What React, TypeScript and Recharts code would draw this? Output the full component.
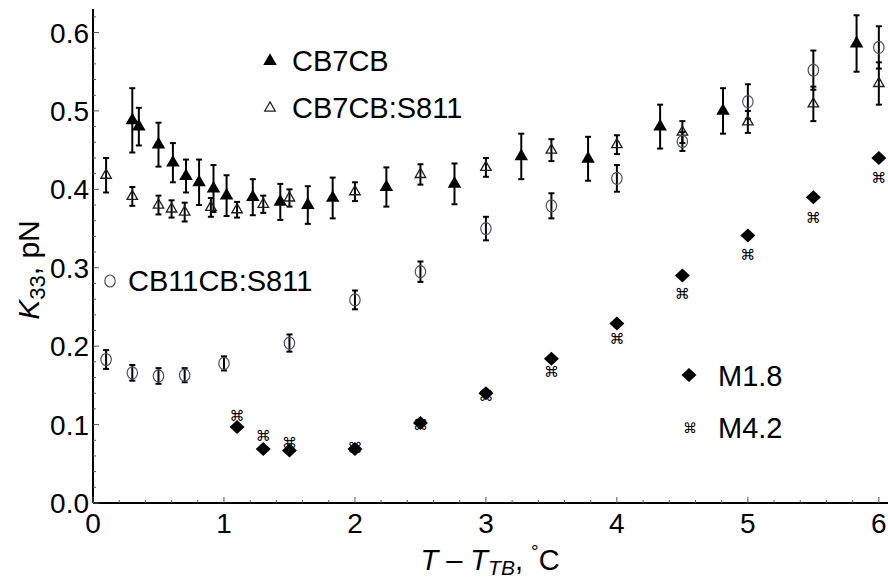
import React from 'react';
import { ScatterChart, Scatter, XAxis, YAxis, ErrorBar } from 'recharts';

// ---- data ----
const cb7cbX = [0.3, 0.35, 0.5, 0.61, 0.71, 0.81, 0.92, 1.02, 1.22, 1.43, 1.64, 1.83, 2.24, 2.76, 3.27, 3.78, 4.33, 4.81, 5.83];
const cb7cbY = [0.488, 0.48, 0.457, 0.434, 0.417, 0.409, 0.401, 0.392, 0.39, 0.384, 0.38, 0.389, 0.403, 0.407, 0.442, 0.439, 0.48, 0.5, 0.586];
const cb7cbErr = [0.041, 0.024, 0.028, 0.025, 0.021, 0.029, 0.03, 0.026, 0.023, 0.023, 0.024, 0.026, 0.025, 0.026, 0.029, 0.028, 0.028, 0.029, 0.036];

const cb7cbS811X = [0.1, 0.3, 0.5, 0.6, 0.7, 0.9, 1.1, 1.3, 1.5, 2.0, 2.5, 3.0, 3.5, 4.0, 4.5, 5.0, 5.5, 6.0];
const cb7cbS811Y = [0.418, 0.391, 0.38, 0.375, 0.371, 0.377, 0.374, 0.381, 0.389, 0.397, 0.419, 0.428, 0.45, 0.457, 0.473, 0.486, 0.509, 0.535];
const cb7cbS811Err = [0.022, 0.012, 0.012, 0.011, 0.012, 0.012, 0.01, 0.011, 0.011, 0.012, 0.013, 0.012, 0.014, 0.012, 0.014, 0.014, 0.022, 0.027];

const cb11cbX = [0.1, 0.3, 0.5, 0.7, 1.0, 1.5, 2.0, 2.5, 3.0, 3.5, 4.0, 4.5, 5.0, 5.5, 6.0];
const cb11cbY = [0.183, 0.166, 0.162, 0.163, 0.178, 0.204, 0.259, 0.295, 0.35, 0.379, 0.414, 0.461, 0.512, 0.552, 0.581];
const cb11cbErr = [0.012, 0.01, 0.01, 0.009, 0.009, 0.011, 0.012, 0.013, 0.015, 0.016, 0.017, 0.012, 0.022, 0.025, 0.027];

const m18X = [1.1, 1.3, 1.5, 2.0, 2.5, 3.0, 3.5, 4.0, 4.5, 5.0, 5.5, 6.0];
const m18Y = [0.097, 0.069, 0.067, 0.069, 0.102, 0.14, 0.184, 0.229, 0.29, 0.341, 0.39, 0.44];

const m42X = [1.1, 1.3, 1.5, 2.0, 2.5, 3.0, 3.5, 4.0, 4.5, 5.0, 5.5, 6.0];
const m42Y = [0.111, 0.086, 0.076, 0.07, 0.099, 0.137, 0.167, 0.209, 0.266, 0.316, 0.364, 0.414];

const xTicks = [0, 0.2, 0.4, 0.6, 0.8, 1, 1.2, 1.4, 1.6, 1.8, 2, 2.2, 2.4, 2.6, 2.8, 3, 3.2, 3.4, 3.6, 3.8, 4, 4.2, 4.4, 4.6, 4.8, 5, 5.2, 5.4, 5.6, 5.8, 6];
const yTicks = [0, 0.02, 0.04, 0.06, 0.08, 0.1, 0.12, 0.14, 0.16, 0.18, 0.2, 0.22, 0.24, 0.26, 0.28, 0.3, 0.32, 0.34, 0.36, 0.38, 0.4, 0.42, 0.44, 0.46, 0.48, 0.5, 0.52, 0.54, 0.56, 0.58, 0.6, 0.62];

const seriesNames = ['CB7CB', 'CB7CB:S811', 'CB11CB:S811', 'M1.8', 'M4.2'];

const build = (xs: number[], ys: number[], errs?: number[]) =>
  xs.map((x, i) => ({ x, y: ys[i], err: errs ? errs[i] : 0 }));

const cb7cbData = build(cb7cbX, cb7cbY, cb7cbErr);
const cb7cbS811Data = build(cb7cbS811X, cb7cbS811Y, cb7cbS811Err);
const cb11cbData = build(cb11cbX, cb11cbY, cb11cbErr);
const m18Data = build(m18X, m18Y);
const m42Data = build(m42X, m42Y);

const FONT = '"Liberation Sans", Arial, sans-serif';
const OPEN_TRI = '#1e1e1e';
const OPEN_CIRC = '#4a5266';

// ---- marker shapes ----
const triPath = (cx: number, cy: number, s: number) => {
  const h = s * 0.866;
  return `M${cx},${cy - (2 * h) / 3} L${cx + s / 2},${cy + h / 3} L${cx - s / 2},${cy + h / 3} Z`;
};
const FilledTri = (p: any) => <path d={triPath(p.cx, p.cy, 13.5)} fill="#000" />;
const OpenTri = (p: any) => <path d={triPath(p.cx, p.cy, 10.5)} fill="none" stroke={OPEN_TRI} strokeWidth={1.3} />;
const OpenCircle = (p: any) => <ellipse cx={p.cx} cy={p.cy} rx={5.2} ry={6} fill="none" stroke={OPEN_CIRC} strokeWidth={1.2} />;
const Diamond = (p: any) => (
  <path d={`M${p.cx},${p.cy - 7} L${p.cx + 7.5},${p.cy} L${p.cx},${p.cy + 7} L${p.cx - 7.5},${p.cy} Z`} fill="#000" />
);
const Cmd = (p: any) => (
  <text x={p.cx} y={p.cy + 5} textAnchor="middle" fontSize={15} fontFamily='"DejaVu Sans", sans-serif' fill="#000">
    ⌘
  </text>
);

// ---- ticks ----
const isMult = (v: number, step: number) => Math.abs(v / step - Math.round(v / step)) < 1e-6;

const XTickBottom = (props: any) => {
  const { x, y, payload } = props;
  const v = payload.value;
  const major = isMult(v, 1);
  return (
    <g>
      <line x1={x} y1={y} x2={x} y2={y - (major ? 6 : 3)} stroke="#555" strokeWidth={1} />
      {major && (
        <text x={x} y={y + 30} textAnchor="middle" fontSize={28} fontFamily={FONT} fill="#000">
          {Math.round(v)}
        </text>
      )}
    </g>
  );
};

const XTickTop = (props: any) => {
  const { x, y, payload } = props;
  const major = isMult(payload.value, 1);
  return <line x1={x} y1={y} x2={x} y2={y + (major ? 6 : 3)} stroke="#555" strokeWidth={1} />;
};

const YTick = (props: any) => {
  const { x, y, payload } = props;
  const v = payload.value;
  const major = isMult(v, 0.1);
  return (
    <g>
      <line x1={x} y1={y} x2={x + (major ? 6 : 3)} y2={y} stroke="#555" strokeWidth={1} />
      {major && (
        <text x={x - 4} y={y + 10} textAnchor="end" fontSize={28} fontFamily={FONT} fill="#000">
          {v.toFixed(1)}
        </text>
      )}
    </g>
  );
};

export default function App() {
  const W = 888;
  const H = 581;
  return (
    <div style={{ position: 'absolute', left: 0, top: 0, width: W, height: H, background: '#fff' }}>
      <ScatterChart width={W} height={H} margin={{ top: 9, right: 0, bottom: 0, left: 0 }}>
        <XAxis
          type="number"
          dataKey="x"
          domain={[0, 6.07]}
          allowDataOverflow
          ticks={xTicks}
          interval={0}
          tick={<XTickBottom />}
          tickSize={0}
          tickMargin={0}
          tickLine={false}
          height={78}
          axisLine={{ stroke: '#000', strokeWidth: 2 }}
        />
        <XAxis
          xAxisId="top"
          orientation="top"
          type="number"
          domain={[0, 6.07]}
          allowDataOverflow
          ticks={xTicks}
          interval={0}
          tick={<XTickTop />}
          tickSize={0}
          tickMargin={0}
          tickLine={false}
          height={0}
          axisLine={{ stroke: '#000', strokeWidth: 2 }}
        />
        <YAxis
          type="number"
          dataKey="y"
          domain={[0, 0.63]}
          allowDataOverflow
          ticks={yTicks}
          interval={0}
          tick={<YTick />}
          tickSize={0}
          tickMargin={0}
          tickLine={false}
          width={93}
          axisLine={{ stroke: '#000', strokeWidth: 2 }}
        />
        <Scatter name={seriesNames[0]} data={cb7cbData} shape={FilledTri} isAnimationActive={false}>
          <ErrorBar dataKey="err" direction="y" width={3} stroke="#000" strokeWidth={2} />
        </Scatter>
        <Scatter name={seriesNames[1]} data={cb7cbS811Data} shape={OpenTri} isAnimationActive={false}>
          <ErrorBar dataKey="err" direction="y" width={3} stroke="#000" strokeWidth={2} />
        </Scatter>
        <Scatter name={seriesNames[2]} data={cb11cbData} shape={OpenCircle} isAnimationActive={false}>
          <ErrorBar dataKey="err" direction="y" width={3} stroke="#000" strokeWidth={2} />
        </Scatter>
        <Scatter name={seriesNames[3]} data={m18Data} shape={Diamond} isAnimationActive={false} />
        <Scatter name={seriesNames[4]} data={m42Data} shape={Cmd} isAnimationActive={false} />
      </ScatterChart>
      <svg
        width={W}
        height={H}
        style={{ position: 'absolute', left: 0, top: 0, pointerEvents: 'none' }}
      >
        {/* legend annotations */}
        <path d={triPath(270, 61, 13.5)} fill="#000" />
        <text x={292} y={71} fontSize={29} fontFamily={FONT} fill="#000">{seriesNames[0]}</text>
        <path d={triPath(270, 108, 10.5)} fill="none" stroke={OPEN_TRI} strokeWidth={1.3} />
        <text x={292} y={118} fontSize={29} fontFamily={FONT} fill="#000">{seriesNames[1]}</text>
        <ellipse cx={110} cy={281} rx={5.2} ry={6} fill="none" stroke={OPEN_CIRC} strokeWidth={1.2} />
        <text x={128} y={291} fontSize={29} fontFamily={FONT} fill="#000">{seriesNames[2]}</text>
        <path d="M689,368 L696.5,375 L689,382 L681.5,375 Z" fill="#000" />
        <text x={718} y={386} fontSize={29} fontFamily={FONT} fill="#000">{seriesNames[3]}</text>
        <text x={690} y={433} textAnchor="middle" fontSize={14} fontFamily='"DejaVu Sans", sans-serif' fill="#000">⌘</text>
        <text x={718} y={438} fontSize={29} fontFamily={FONT} fill="#000">{seriesNames[4]}</text>
        {/* axis titles */}
        <text
          transform="translate(39,270) rotate(-90)"
          textAnchor="middle"
          fontSize={30}
          fontFamily={FONT}
          fill="#000"
          style={{ whiteSpace: 'pre' }}
        >
          <tspan fontStyle="italic">K</tspan>
          <tspan fontSize={22} dy={6}>33</tspan>
          <tspan dy={-6}>, pN</tspan>
        </text>
        <text x={490} y={570} textAnchor="middle" fontSize={29} fontFamily={FONT} fill="#000" style={{ whiteSpace: 'pre' }}>
          <tspan fontStyle="italic">T</tspan>
          <tspan> – </tspan>
          <tspan fontStyle="italic">T</tspan>
          <tspan fontStyle="italic" fontSize={21} dy={5}>TB</tspan>
          <tspan dy={-5}>, </tspan>
          <tspan fontSize={19} dy={-12}>°</tspan>
          <tspan dy={12}>C</tspan>
        </text>
      </svg>
    </div>
  );
}
